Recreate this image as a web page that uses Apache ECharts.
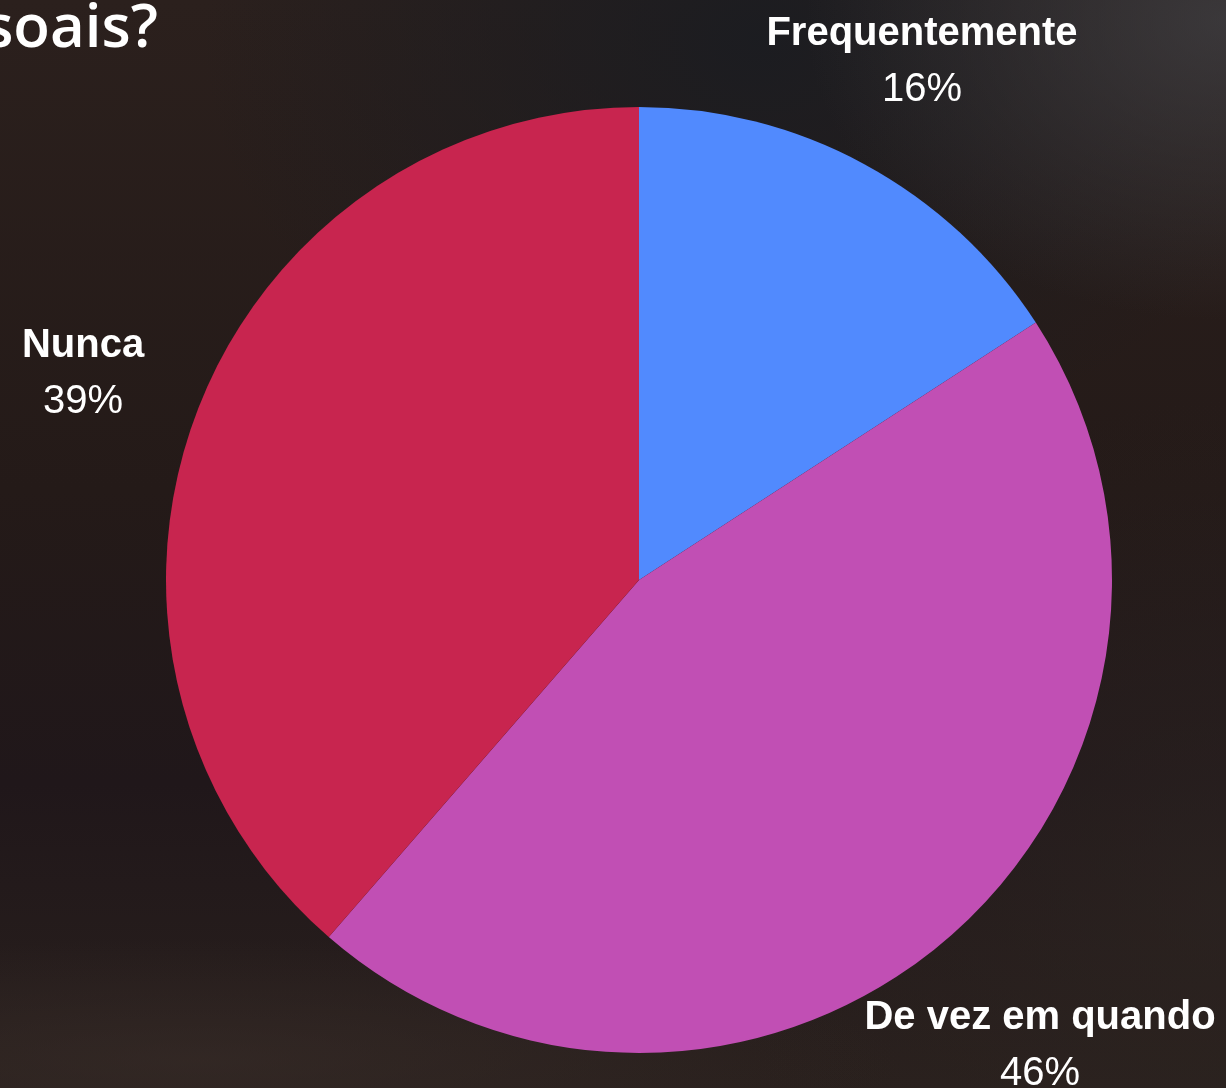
<!DOCTYPE html>
<html>
<head>
<meta charset="utf-8">
<script src="https://cdn.jsdelivr.net/npm/echarts@6/dist/echarts.min.js"></script>
<style>
  html, body { margin: 0; padding: 0; width: 1226px; height: 1088px; overflow: hidden; }
  body {
    background:
      radial-gradient(ellipse 700px 120px at 200px 1060px, rgba(58,46,42,0.55), rgba(58,46,42,0) 100%),
      radial-gradient(ellipse 420px 300px at 1226px 20px, rgba(66,66,70,0.7), rgba(66,66,70,0) 100%),
      radial-gradient(ellipse 560px 420px at 760px 40px, rgba(26,28,33,0.9), rgba(26,28,33,0) 100%),
      radial-gradient(ellipse 500px 500px at 1226px 900px, rgba(46,38,34,0.6), rgba(46,38,34,0) 100%),
      linear-gradient(180deg, #2b201d 0%, #241a18 45%, #20171a 72%, #29201d 100%);
  }
  #chart { width: 1226px; height: 1088px; }
</style>
</head>
<body>
<div id="chart"></div>
<script>
// Survey answers and their shares (percent)
const categories = ['Frequentemente', 'De vez em quando', 'Nunca'];
const shares = [16, 46, 39];
const sliceColors = ['#518AFE', '#C14FB4', '#C8254F'];

// Where each answer's caption sits around the pie (centre of the two-line block)
const captionSpots = [
  { x: 922, y: 62 },
  { x: 1040, y: 1046 },
  { x: 83, y: 374 }
];

const chart = echarts.init(document.getElementById('chart'), null, { renderer: 'canvas' });

chart.setOption({
  backgroundColor: 'transparent',
  animation: false,
  graphic: [{
    type: 'text',
    x: 158,
    y: 30,
    style: {
      text: 'pessoais?',
      fill: '#ffffff',
      font: '600 60px "Open Sans", Lato, sans-serif',
      textAlign: 'right',
      textVerticalAlign: 'middle'
    }
  }],
  series: [{
    type: 'pie',
    center: [639, 580],
    radius: [0, 473],
    startAngle: 90,
    clockwise: true,
    avoidLabelOverlap: false,
    data: categories.map((name, i) => ({
      name: name,
      value: shares[i],
      itemStyle: { color: sliceColors[i] }
    })),
    label: {
      show: true,
      position: 'outside',
      color: '#ffffff',
      formatter: '{name|{b}}\n{val|{c}%}',
      rich: {
        name: { fontFamily: '"Liberation Sans", Arial, sans-serif', fontWeight: 'bold', fontSize: 40, lineHeight: 56, color: '#ffffff' },
        val: { fontFamily: '"Liberation Sans", Arial, sans-serif', fontWeight: 'normal', fontSize: 40, lineHeight: 56, color: '#ffffff' }
      }
    },
    labelLine: { show: false },
    labelLayout: function (params) {
      const spot = captionSpots[params.dataIndex];
      return { x: spot.x, y: spot.y, align: 'center', verticalAlign: 'middle' };
    },
    emphasis: { disabled: true }
  }]
});
</script>
</body>
</html>
